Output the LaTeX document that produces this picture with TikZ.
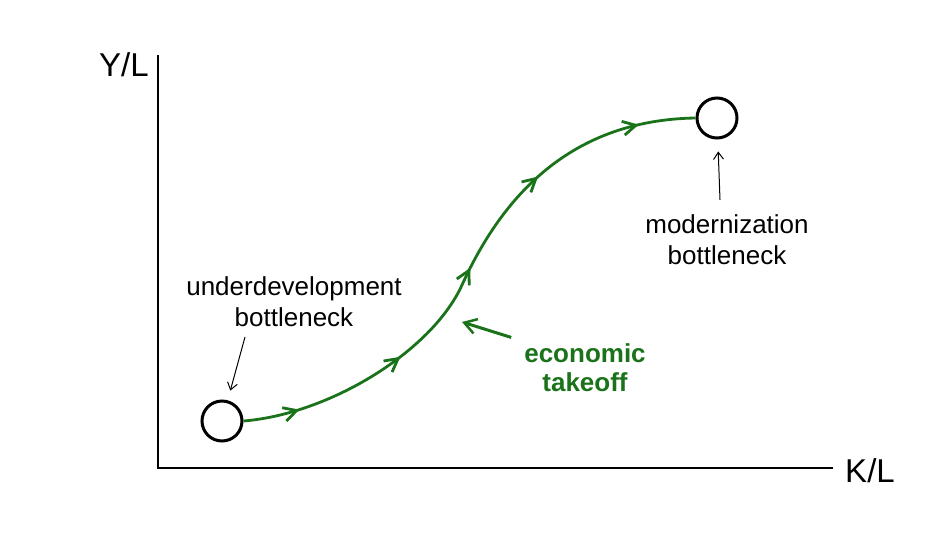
\documentclass[tikz,border=0pt]{standalone}
\usepackage{fontspec}
\setmainfont{Liberation Sans}
\usetikzlibrary{arrows.meta,decorations.markings}
\definecolor{growth}{RGB}{26,115,26}
\tikzset{
  label text/.style={align=center,font=\fontsize{26}{31}\selectfont},
  bottleneck/.style={draw,circle,line width=3pt,minimum size=40pt,inner sep=0pt},
  pointer/.style={-{Straight Barb[length=7pt,width=10pt]},line width=1pt},
  growth arrows/.style={postaction={decorate},decoration={markings,
    mark=between positions 0.1 and 0.9 step 0.2 with {\arrow{Straight Barb[length=13pt,width=14pt,line width=2.8pt]}}}}
}
\begin{document}
\begin{tikzpicture}[x=1pt,y=-1pt]
    \useasboundingbox (0,0) rectangle (939,533);
    \draw[line width=2.2pt] (158,55) -- (158,468) -- (833,468);
    \node[font=\fontsize{33}{38}\selectfont] (ylab) at (124,65) {Y/L};
    \node[font=\fontsize{33}{38}\selectfont] (xlab) at (870,471) {K/L};
    \node[bottleneck] (lowbn) at (222,421) {};
    \node[bottleneck] (highbn) at (717,118) {};
    \draw[growth,line width=2.8pt,growth arrows] (lowbn.east) .. controls (330,414) and (432,351) .. (462,285)
        .. controls (502,197) and (570,120) .. (highbn.west);
    \node[label text] (udlab) at (294,302) {underdevelopment\\bottleneck};
    \node[label text] (mdlab) at (727,240) {modernization\\bottleneck};
    \node[label text,font=\fontsize{26}{29}\bfseries\selectfont,text=growth] (takeoff) at (585,368) {economic\\takeoff};
    \coordinate (udtail) at (245,337);
    \coordinate (mdtail) at (720,200);
    \coordinate (takeoffpt) at (462,322);
    \draw[pointer,shorten >=10pt] (udtail) -- (lowbn);
    \draw[pointer,shorten >=12pt] (mdtail) -- (highbn);
    \draw[growth,line width=3pt,-{Straight Barb[length=12pt,width=15pt,line width=2.5pt]},shorten <=10pt] (takeoff.north west) -- (takeoffpt);
\end{tikzpicture}
\end{document}
